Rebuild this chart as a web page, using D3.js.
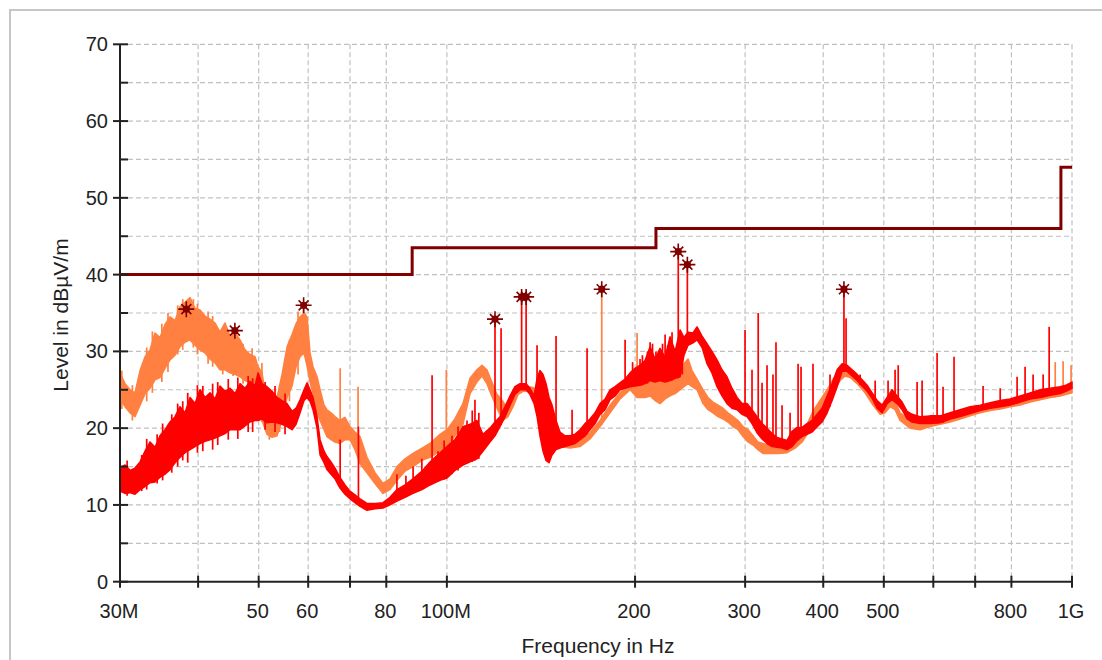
<!DOCTYPE html>
<html>
<head>
<meta charset="utf-8">
<script src="https://cdn.jsdelivr.net/npm/d3@7/dist/d3.min.js"></script>
<style>
  html, body { margin: 0; padding: 0; background: #fff; }
  svg { display: block; font-family: "Liberation Sans", Arial, sans-serif; }
  .grid line { stroke: #c0c0c0; stroke-width: 1.2; stroke-dasharray: 5 3; }
  .tick-label { font-size: 20px; fill: #222; }
  .axis-title { font-size: 21px; fill: #222; }
</style>
</head>
<body>
<div id="chart"></div>
<script>
// frequency axis (MHz)
var xTicks = [30, 40, 50, 60, 70, 80, 100, 200, 300, 400, 500, 600, 700, 800, 1000];
var xTickLabels = {30: "30M", 50: "50", 60: "60", 80: "80", 100: "100M", 200: "200", 300: "300", 400: "400", 500: "500", 800: "800", 1000: "1G"};
var yMajor = [0, 10, 20, 30, 40, 50, 60, 70];
var yMinor = [5, 15, 25, 35, 45, 55, 65];

// limit line (FCC class B)
var limitFreq = [30, 88, 216, 960, 1000];
var limitLevel = [40, 43.5, 46, 54, 54];

// peak markers
var markerFreq = [38.3, 45.8, 59.0, 119.4, 131.7, 133.9, 176.9, 234.5, 242.5, 431.7];
var markerLevel = [35.5, 32.7, 36.0, 34.2, 37.1, 37.1, 38.1, 43.0, 41.3, 38.1];

// orange trace: band low / high
var orangeFreq = [30.0, 30.56, 31.13, 31.70, 32.30, 32.90, 33.51, 34.13, 34.76, 35.41, 36.07, 36.74, 37.42, 38.12, 38.83, 39.55,
  40.28, 41.03, 41.80, 42.57, 43.36, 44.17, 44.99, 45.83, 46.68, 47.55, 48.43, 49.33, 49.88, 50.62, 51.56, 52.52, 53.50,
  54.49, 55.51, 56.54, 57.38, 58.23, 59.09, 59.75, 60.41, 61.08, 61.99, 62.68, 63.61, 64.30, 65.26, 66.23, 67.46, 68.71,
  69.99, 71.29, 72.62, 74.51, 76.74, 79.04, 81.10, 83.22, 85.71, 88.27, 91.25, 93.98, 97.50, 100.05, 103.0, 106.1, 108.9,
  111.7, 113.8, 115.9, 118.0, 120.1, 122.9, 125.2, 127.6, 130.0, 132.4, 134.9, 137.4, 140.9, 143.3, 145.9, 148.4, 151.7,
  157.4, 163.3, 169.4, 175.8, 182.4, 189.2, 196.4, 201.5, 207.5, 211.4, 215.3, 219.3, 223.4, 227.5, 231.8, 236.1, 239.5,
  243.1, 246.7, 251.3, 256.9, 261.7, 266.5, 271.5, 276.5, 281.6, 286.9, 292.3, 297.7, 303.2, 308.8, 314.5, 320.3, 331.3,
  338.7, 350.1, 360.6, 370.0, 376.9, 385.2, 395.4, 405.8, 414.9, 425.7, 433.6, 441.6, 453.2, 466.6, 480.6, 493.3, 502.2,
  511.8, 521.2, 530.8, 551, 571.5, 593, 615.3, 638.4, 662.4, 687.3, 713, 739.8, 767.6, 796.4, 826.3, 857.3, 889.5, 922.9,
  957.5, 1000];
var orangeLo = [23.8, 22.8, 22.0, 21.5, 23.0, 24.5, 25.2, 26.3, 26.6, 27.8, 28.9, 29.5, 30.6, 31.2, 31.5, 30.8,
  30.2, 29.8, 29.0, 28.5, 27.6, 27.6, 27.2, 27.0, 26.7, 26.2, 25.9, 25.0, 23.5, 21.0, 19.2, 18.8, 19.0,
  21.0, 24.0, 25.5, 28.0, 29.3, 29.8, 28.1, 26.0, 24.5, 22.0, 21.0, 19.8, 18.9, 18.5, 18.2, 18.0, 18.5,
  18.5, 17.2, 15.4, 14.2, 12.8, 11.5, 12.0, 13.2, 14.4, 15.0, 15.8, 16.2, 17.0, 17.5, 19.0, 20.5, 24.5,
  26.0, 26.8, 25.8, 24.2, 22.7, 21.0, 21.5, 22.8, 24.4, 24.8, 24.8, 24.6, 23.8, 22.0, 20.0, 18.4, 17.6,
  17.4, 17.6, 18.6, 20.2, 22.0, 23.8, 25.0, 24.0, 24.0, 24.2, 23.6, 23.2, 23.8, 24.2, 24.5, 25.0, 25.4,
  25.8, 25.4, 25.0, 23.2, 22.4, 22.0, 21.5, 21.2, 20.8, 20.2, 19.8, 18.9, 18.2, 17.8, 17.2, 16.7, 16.7,
  16.7, 16.8, 17.4, 18.2, 19.2, 20.8, 22.0, 23.2, 24.8, 26.2, 26.8, 26.6, 25.8, 24.6, 23.0, 21.8, 22.0,
  22.8, 22.4, 21.0, 20.0, 19.8, 20.2, 20.5, 20.8, 21.2, 21.6, 22.0, 22.3, 22.5, 22.8, 23.0, 23.4, 23.7, 24.0,
  24.2, 24.6];
var orangeHi = [27.2, 25.8, 25.0, 24.6, 27.5, 29.3, 30.2, 32.4, 31.8, 33.5, 34.5, 34.0, 35.8, 36.4, 37.0, 35.6,
  35.4, 34.6, 34.2, 33.7, 32.5, 33.7, 32.0, 32.4, 31.5, 30.2, 29.6, 29.3, 28.0, 27.2, 23.0, 22.4, 24.0,
  27.0, 30.6, 32.2, 33.6, 34.5, 35.0, 34.5, 29.8, 28.0, 26.7, 25.0, 23.0, 22.4, 22.0, 21.5, 21.0, 21.4,
  20.2, 19.5, 18.9, 16.2, 14.2, 12.8, 13.4, 15.0, 16.0, 16.7, 17.4, 18.0, 19.2, 19.8, 21.2, 23.2, 26.5,
  27.6, 28.2, 27.6, 26.0, 24.5, 23.5, 22.5, 24.0, 25.2, 25.4, 25.4, 25.3, 24.5, 23.5, 22.0, 20.0, 18.4,
  18.0, 18.4, 19.4, 21.0, 23.0, 24.6, 25.8, 26.2, 26.4, 26.5, 26.8, 27.5, 27.2, 27.8, 28.0, 28.2, 28.4,
  29.0, 27.5, 26.4, 25.0, 24.0, 23.4, 23.0, 22.6, 22.0, 21.5, 21.0, 20.2, 19.8, 19.0, 18.2, 18.0, 17.6,
  17.4, 17.6, 18.4, 19.5, 20.5, 22.2, 23.6, 25.0, 26.4, 27.5, 28.0, 27.6, 26.6, 25.4, 24.0, 22.6, 23.5,
  24.5, 23.5, 22.0, 21.0, 20.8, 21.0, 21.4, 21.6, 22.0, 22.4, 22.8, 23.0, 23.2, 23.6, 23.8, 24.2, 24.6, 24.8,
  25.0, 25.4];
// [freq, base, top]
var orangeSpikes = [[30.2, 22.5, 27.5], [31.4, 21.0, 25.6], [33.1, 23.5, 30.5], [33.8, 24.6, 32.6], [35.0, 26.0, 33.6],
  [35.8, 27.3, 35.0], [37.1, 29.6, 36.0], [37.8, 30.2, 36.8], [38.3, 31.2, 35.5], [39.3, 30.5, 36.8], [39.9, 29.6, 36.2],
  [41.5, 28.4, 35.2], [42.2, 28.0, 34.6], [43.8, 27.0, 33.0], [45.5, 26.8, 32.6], [47.2, 25.8, 31.0], [48.8, 25.0, 30.4],
  [50.6, 20.8, 28.5], [52.0, 18.5, 24.0], [54.0, 19.5, 25.5], [56.0, 23.5, 31.5], [57.8, 27.0, 35.2], [59.0, 29.8, 36.0],
  [67.5, 19.0, 27.8], [72.1, 17.5, 25.4], [99.8, 17.5, 27.6], [176.9, 20.4, 38.1], [201.5, 24.5, 32.4],
  [940, 24.0, 28.6], [967.8, 24.3, 28.7], [996.6, 24.6, 28.2]];

// red trace: band low / high
var redFreq = [30.0, 30.56, 31.13, 31.70, 32.30, 32.90, 33.51, 34.13, 34.76, 35.41, 36.07, 36.74, 37.42, 38.12, 38.83, 39.55,
  40.28, 41.03, 41.80, 42.57, 43.36, 44.17, 44.99, 45.83, 46.68, 47.55, 48.43, 49.33, 49.88, 50.62, 51.56, 52.52, 53.50,
  54.49, 55.51, 56.54, 57.38, 58.23, 59.09, 59.75, 60.41, 61.08, 61.99, 62.68, 63.61, 64.30, 65.26, 66.23, 67.46, 68.71,
  69.99, 71.29, 72.62, 74.51, 76.74, 79.04, 81.10, 83.22, 85.71, 88.27, 91.25, 93.98, 97.50, 100.05, 103.0, 106.1, 108.9,
  111.7, 114.2, 117.2, 119.4, 121.6, 123.9, 126.2, 128.5, 130.9, 133.9, 135.8, 137.9, 139.4, 140.9, 142.5, 144.1, 145.7,
  147.3, 149.5, 151.7, 154.5, 157.4, 160.3, 163.3, 166.4, 169.4, 172.6, 175.8, 179.1, 182.4, 185.8, 189.2, 192.8, 196.4,
  200.0, 203.7, 207.5, 211.4, 215.3, 219.3, 223.4, 227.5, 231.8, 236.1, 239.5, 243.1, 247.6, 251.3, 256.0, 260.7, 265.5,
  270.5, 275.5, 280.6, 285.8, 291.2, 296.6, 302.1, 307.7, 313.4, 319.3, 325.2, 331.3, 337.4, 343.7, 350.1, 356.6, 363.3,
  370.0, 376.9, 383.9, 391.1, 398.3, 405.8, 413.3, 421.0, 428.8, 436.8, 444.9, 453.2, 461.6, 470.2, 478.9, 487.8, 496.9,
  506.1, 515.5, 525.0, 534.8, 544.8, 554.8, 571.5, 593, 615.3, 638.4, 662.4, 687.3, 713, 739.8, 767.6, 796.4, 826.3,
  857.3, 889.5, 922.9, 957.5, 978, 1000];
var redLo = [11.8, 11.5, 11.6, 11.4, 12.0, 12.4, 12.9, 13.0, 13.6, 14.0, 14.6, 15.5, 16.2, 16.8, 17.2, 17.6,
  18.0, 18.3, 18.5, 18.7, 19.0, 19.3, 19.8, 19.8, 19.8, 20.3, 20.8, 21.0, 21.0, 21.2, 20.7, 20.8, 20.7,
  20.5, 20.2, 19.8, 20.5, 22.0, 23.6, 24.0, 23.5, 22.4, 20.0, 16.5, 15.5, 14.6, 14.0, 13.4, 12.2, 11.4,
  10.8, 10.3, 9.8, 9.3, 9.5, 9.6, 10.0, 10.5, 11.0, 11.5, 12.0, 12.6, 13.2, 13.5, 14.5, 15.2, 15.6,
  16.0, 17.0, 18.2, 19.0, 20.2, 21.5, 23.0, 24.4, 25.0, 25.0, 24.4, 23.2, 21.5, 19.0, 17.0, 15.8, 15.5,
  16.5, 17.2, 17.4, 17.6, 17.8, 18.0, 18.5, 19.0, 19.8, 20.6, 21.8, 22.4, 23.7, 24.2, 25.0, 25.2, 25.4,
  25.5, 25.6, 25.8, 26.2, 26.0, 26.2, 26.0, 26.2, 26.5, 26.7, 29.5, 30.8, 31.1, 31.5, 30.5, 28.4, 27.2,
  25.4, 24.2, 23.2, 22.6, 22.4, 21.8, 21.5, 20.6, 19.4, 18.6, 18.0, 17.6, 17.5, 17.4, 17.2, 17.6, 18.4,
  18.9, 19.2, 19.5, 20.2, 20.8, 22.0, 23.6, 25.4, 27.4, 27.4, 26.8, 26.2, 25.5, 24.8, 23.9, 22.6, 22.0,
  23.2, 23.7, 23.2, 22.4, 21.2, 20.8, 20.6, 20.6, 20.7, 21.2, 21.5, 21.9, 22.3, 22.6, 22.8, 23.0, 23.4,
  23.8, 24.0, 24.3, 24.5, 24.8, 25.2];
var redHi = [14.8, 15.2, 14.5, 14.8, 15.6, 17.0, 18.2, 17.5, 19.0, 19.8, 20.8, 21.5, 22.8, 22.0, 24.0, 23.2,
  25.0, 24.0, 24.6, 23.8, 25.5, 24.8, 25.2, 24.5, 25.8, 25.2, 26.1, 25.5, 27.2, 25.8, 25.4, 24.8, 24.0,
  23.6, 23.2, 22.2, 22.6, 23.7, 25.0, 25.9, 25.0, 24.0, 21.5, 18.5, 17.0, 16.3, 15.6, 14.8, 13.6, 12.6,
  11.8, 11.3, 10.8, 10.2, 10.2, 10.3, 11.0, 12.0, 12.6, 13.4, 14.4, 15.6, 16.8, 17.6, 18.5, 20.2, 20.5,
  21.0, 19.2, 20.0, 20.8, 21.5, 22.8, 24.2, 25.4, 25.8, 25.8, 25.2, 24.2, 26.5, 27.5, 27.0, 25.8, 24.0,
  23.0, 21.0, 19.5, 19.0, 19.0, 19.2, 19.8, 20.6, 21.2, 22.0, 23.2, 23.8, 25.0, 25.4, 25.9, 26.4, 27.2,
  27.8, 28.2, 28.8, 30.6, 29.0, 30.4, 29.2, 31.9, 30.0, 32.8, 31.8, 32.5, 32.4, 33.2, 32.0, 31.0, 30.0,
  28.9, 27.6, 26.7, 25.2, 24.0, 23.2, 23.2, 22.4, 21.5, 20.6, 20.0, 19.3, 18.8, 18.6, 18.4, 19.6, 20.1,
  20.1, 20.6, 21.0, 21.8, 22.6, 24.2, 25.8, 27.6, 28.4, 28.2, 27.6, 27.0, 26.3, 25.6, 24.6, 23.6, 23.0,
  24.0, 25.0, 24.2, 23.4, 22.2, 21.8, 21.5, 21.6, 21.6, 22.0, 22.4, 22.8, 23.0, 23.3, 23.6, 23.8, 24.2,
  24.6, 25.0, 25.2, 25.4, 25.6, 26.0];
var redSpikes = [[30.8, 11.2, 15.8], [32.5, 11.8, 16.5], [33.1, 12.0, 18.6], [34.4, 12.8, 19.2], [35.1, 13.2, 20.6],
  [36.3, 14.2, 21.8], [37.1, 15.0, 23.2], [37.8, 15.8, 23.5], [38.5, 15.5, 24.6], [39.9, 16.8, 25.6], [40.7, 17.0, 25.5],
  [42.2, 17.2, 25.8], [43.0, 17.8, 26.0], [44.7, 18.5, 26.4], [46.3, 18.6, 26.6], [48.1, 19.5, 26.8], [48.9, 19.5, 26.5],
  [51.2, 19.8, 26.0], [53.1, 19.5, 25.5], [55.1, 19.2, 24.5],
  [67.5, 12.5, 18.5], [72.2, 10.5, 20.2], [83.2, 10.8, 14.0], [86.0, 11.0, 13.8], [88.3, 11.8, 15.0], [91.2, 12.3, 16.0],
  [94.7, 12.8, 26.9], [96.8, 13.0, 17.0], [99.0, 13.3, 18.4], [101.9, 14.0, 19.0], [104.2, 14.5, 20.2], [107.7, 15.4, 21.0],
  [109.8, 15.6, 22.3], [110.9, 15.8, 23.7], [112.5, 16.0, 22.0], [119.4, 19.0, 34.2], [122.1, 20.4, 33.0],
  [131.7, 25.0, 37.1], [133.9, 25.0, 37.1],
  [139.4, 23.0, 30.8], [149.5, 17.5, 32.0], [158.6, 17.8, 22.4], [167.6, 19.2, 30.4], [192.8, 25.2, 31.5],
  [198.2, 25.4, 28.6], [203.7, 25.6, 29.0], [205.5, 25.6, 29.5], [209.4, 25.8, 30.0], [211.4, 26.2, 31.2],
  [213.3, 26.0, 31.0], [216.0, 26.0, 30.0], [221.3, 26.0, 31.0], [223.4, 26.0, 32.2], [225.5, 26.0, 30.8],
  [229.2, 26.2, 32.5], [234.5, 26.5, 43.0], [238.0, 27.0, 32.0], [242.5, 30.8, 41.3],
  [299.9, 21.8, 32.8], [307.7, 20.6, 27.6], [314.8, 19.4, 35.0],
  [319.3, 18.6, 25.9], [325.2, 18.0, 28.2], [332.4, 17.6, 27.0], [336.1, 17.5, 31.2], [343.7, 17.4, 23.0],
  [354.0, 17.4, 22.0], [364.6, 18.4, 28.4], [368.6, 18.9, 28.0], [385.2, 19.6, 28.4], [410.1, 22.8, 27.0],
  [431.7, 27.4, 38.1], [435.1, 27.4, 34.3], [458.2, 25.6, 27.0], [484.3, 23.5, 26.2], [507.9, 23.3, 26.2],
  [521.2, 23.4, 27.6], [527.2, 23.2, 28.2], [565.2, 20.8, 26.0], [575.7, 20.6, 26.2], [608.4, 20.6, 29.8],
  [621.9, 20.7, 25.4], [647.6, 21.3, 29.3], [720.7, 22.4, 25.5], [767.6, 22.8, 25.2], [816.9, 23.2, 26.7],
  [841.3, 23.6, 28.0], [866.5, 23.8, 27.0], [899.2, 24.0, 27.0], [919.3, 24.2, 33.2]];

var width = 1102, height = 660;
var plot = {left: 120, right: 1072, top: 44.3, bottom: 581.7};

var svg = d3.select("#chart").append("svg")
    .attr("width", width)
    .attr("height", height);

// outer frame
svg.append("rect")
    .attr("x", 10).attr("y", 10)
    .attr("width", width + 20).attr("height", height + 20)
    .attr("fill", "#fff")
    .attr("stroke", "#c6c6c6")
    .attr("stroke-width", 2);

var x = d3.scaleLog().domain([30, 1000]).range([plot.left, plot.right]);
var y = d3.scaleLinear().domain([0, 70]).range([plot.bottom, plot.top]);

// grid
var grid = svg.append("g").attr("class", "grid");
grid.selectAll("line.h")
    .data(yMajor.concat(yMinor).filter(function (d) { return d > 0; }))
    .enter().append("line")
    .attr("class", "h")
    .attr("x1", plot.left).attr("x2", plot.right)
    .attr("y1", function (d) { return y(d); })
    .attr("y2", function (d) { return y(d); });
grid.selectAll("line.v")
    .data(xTicks.slice(1))
    .enter().append("line")
    .attr("class", "v")
    .attr("y1", plot.top).attr("y2", plot.bottom)
    .attr("x1", function (d) { return x(d); })
    .attr("x2", function (d) { return x(d); });

// traces
function drawTrace(freq, lo, hi, spikes, color) {
    var rows = freq.map(function (f, i) { return {f: f, lo: lo[i], hi: hi[i]}; });
    var area = d3.area()
        .x(function (d) { return x(d.f); })
        .y0(function (d) { return y(d.lo); })
        .y1(function (d) { return y(d.hi); });
    svg.append("path")
        .datum(rows)
        .attr("d", area)
        .attr("fill", color)
        .attr("stroke", color)
        .attr("stroke-width", 1.5)
        .attr("stroke-linejoin", "round");
    var line = d3.line()
        .x(function (d) { return x(d[0]); })
        .y(function (d) { return y(d[1]); });
    svg.append("g").selectAll("path")
        .data(spikes)
        .enter().append("path")
        .attr("d", function (s) { return line([[s[0], s[1]], [s[0], s[2]]]); })
        .attr("stroke", color)
        .attr("stroke-width", 1.7)
        .attr("fill", "none");
}
drawTrace(orangeFreq, orangeLo, orangeHi, orangeSpikes, "#ff8040");
drawTrace(redFreq, redLo, redHi, redSpikes, "#ff0000");

// limit line
var limitLine = d3.line()
    .x(function (d) { return x(d[0]); })
    .y(function (d) { return y(d[1]); })
    .curve(d3.curveStepAfter);
svg.append("path")
    .datum(limitFreq.map(function (f, i) { return [f, limitLevel[i]]; }))
    .attr("d", limitLine)
    .attr("fill", "none")
    .attr("stroke", "#800000")
    .attr("stroke-width", 3);

// markers
var markers = svg.append("g").selectAll("g")
    .data(markerFreq.map(function (f, i) { return [f, markerLevel[i]]; }))
    .enter().append("g")
    .attr("transform", function (d) { return "translate(" + x(d[0]) + "," + y(d[1]) + ")"; })
    .attr("stroke", "#800000")
    .attr("fill", "#800000");
markers.append("path")
    .attr("d", "M-8,0H8M0,-8V8M-5,-5L5,5M-5,5L5,-5")
    .attr("stroke-width", 1.6);
markers.append("circle").attr("r", 3.6).attr("stroke", "none");

// axes
var axes = svg.append("g").attr("stroke", "#222");
axes.append("line")
    .attr("x1", plot.left).attr("x2", plot.left)
    .attr("y1", plot.top).attr("y2", plot.bottom)
    .attr("stroke-width", 2);
axes.append("line")
    .attr("x1", plot.left).attr("x2", plot.right)
    .attr("y1", plot.bottom).attr("y2", plot.bottom)
    .attr("stroke-width", 2);
axes.selectAll("line.ymaj")
    .data(yMajor).enter().append("line")
    .attr("x1", plot.left - 7).attr("x2", plot.left + 8)
    .attr("y1", function (d) { return y(d); })
    .attr("y2", function (d) { return y(d); })
    .attr("stroke-width", 2);
axes.selectAll("line.ymin")
    .data(yMinor).enter().append("line")
    .attr("x1", plot.left - 1).attr("x2", plot.left + 8)
    .attr("y1", function (d) { return y(d); })
    .attr("y2", function (d) { return y(d); })
    .attr("stroke-width", 2);
axes.selectAll("line.xt")
    .data(xTicks).enter().append("line")
    .attr("x1", function (d) { return x(d); })
    .attr("x2", function (d) { return x(d); })
    .attr("y1", plot.bottom - 6).attr("y2", plot.bottom + 6)
    .attr("stroke-width", 2);

svg.selectAll("text.ylab")
    .data(yMajor).enter().append("text")
    .attr("class", "tick-label")
    .attr("x", 108)
    .attr("y", function (d) { return y(d) + 7; })
    .attr("text-anchor", "end")
    .text(function (d) { return d; });

svg.selectAll("text.xlab")
    .data(xTicks.filter(function (d) { return xTickLabels[d]; })).enter().append("text")
    .attr("class", "tick-label")
    .attr("x", function (d) { return x(d) - 1; })
    .attr("y", 618)
    .attr("text-anchor", "middle")
    .text(function (d) { return xTickLabels[d]; });

svg.append("text")
    .attr("class", "axis-title")
    .attr("x", 598).attr("y", 653)
    .attr("text-anchor", "middle")
    .text("Frequency in Hz");

svg.append("text")
    .attr("class", "axis-title")
    .attr("transform", "translate(68,315) rotate(-90)")
    .attr("text-anchor", "middle")
    .text("Level in dBµV/m");
</script>
</body>
</html>
